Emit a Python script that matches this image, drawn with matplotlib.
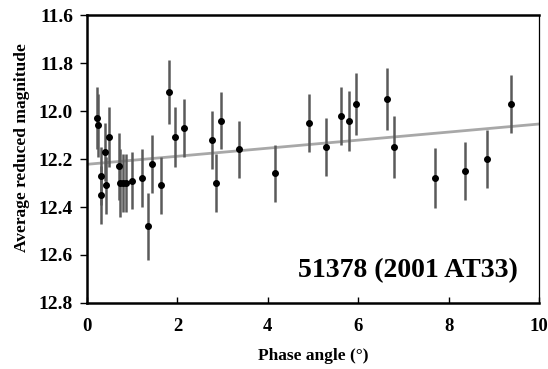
import numpy as np
import matplotlib
matplotlib.use("Agg")
import matplotlib.pyplot as plt

plt.rcParams['font.family'] = ['Liberation Serif', 'DejaVu Serif']
plt.rcParams['font.weight'] = 'bold'

# phase angle (deg), reduced magnitude and its error
phase = [0.23, 0.25, 0.31, 0.32, 0.40, 0.42, 0.49, 0.70, 0.72, 0.80, 0.86,
         0.99, 1.22, 1.34, 1.43, 1.63, 1.81, 1.94, 2.14, 2.76, 2.85, 2.97,
         3.36, 4.16, 4.91, 5.29, 5.63, 5.79, 5.96, 6.63, 6.80, 7.70, 8.37,
         8.86, 9.39]
mag = [12.03, 12.06, 12.27, 12.35, 12.17, 12.31, 12.11, 12.23, 12.30, 12.30,
       12.30, 12.29, 12.28, 12.48, 12.22, 12.31, 11.92, 12.11, 12.07, 12.12,
       12.30, 12.04, 12.16, 12.26, 12.05, 12.15, 12.02, 12.04, 11.97, 11.95,
       12.15, 12.28, 12.25, 12.20, 11.97]
err = [0.13, 0.13, 0.12, 0.12, 0.12, 0.12, 0.125, 0.14, 0.14, 0.12, 0.12,
       0.12, 0.12, 0.14, 0.12, 0.12, 0.135, 0.125, 0.12, 0.12, 0.12, 0.12,
       0.12, 0.12, 0.12, 0.12, 0.12, 0.125, 0.13, 0.13, 0.13, 0.125, 0.12,
       0.12, 0.12]

# linear phase fit
fit_x = [0, 10]
fit_y = [12.222, 12.054]

fig = plt.figure(figsize=(5.48, 3.69), dpi=100)
ax = fig.add_axes([0.1588, 0.179, 0.8248, 0.780])

ax.plot(fit_x, fit_y, color='#a8a8a8', linewidth=2, zorder=1)
ax.errorbar(phase, mag, yerr=err, fmt='o', color='black', markersize=4,
            ecolor='#5a5a5a', elinewidth=1.8, capsize=0, zorder=2)

ax.set_xlim(0, 10)
ax.set_ylim(12.8, 11.6)
ax.set_xticks([0, 2, 4, 6, 8, 10])
ax.set_yticks([11.6, 11.8, 12.0, 12.2, 12.4, 12.6, 12.8])
ax.set_yticklabels(['11.6', '11.8', '12.0', '12.2', '12.4', '12.6', '12.8'])

ax.tick_params(axis='x', direction='in', length=4, width=1, labelsize=13.5, pad=11)
ax.tick_params(axis='y', direction='out', length=5, width=1, labelsize=14, pad=5)

for side in ['left', 'top', 'bottom']:
    ax.spines[side].set_linewidth(1.8)
ax.spines['right'].set_linewidth(0.9)

ax.set_xlabel('Phase angle (°)', fontsize=12.5, fontweight='bold', labelpad=9)
ax.set_ylabel('Average reduced magnitude', fontsize=12.5, fontweight='bold')
ax.yaxis.set_label_coords(-0.126, 0.54)

ax.text(9.53, 12.665, '51378 (2001 AT33)', fontsize=20, fontweight='bold',
        ha='right', va='center')

fig.savefig('out.png', dpi=100)
